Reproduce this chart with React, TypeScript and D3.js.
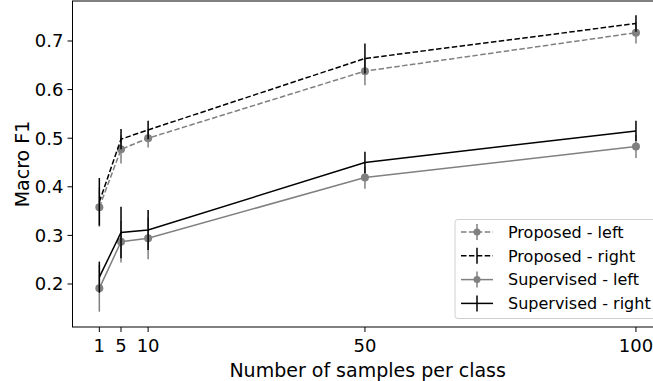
import React from 'react';
import * as d3 from 'd3';

const samples = [1, 5, 10, 50, 100];
const xTicks = [1, 5, 10, 50, 100];
const yTicks = [0.2, 0.3, 0.4, 0.5, 0.6, 0.7];

const proposedLeft = [0.358, 0.477, 0.5, 0.638, 0.717];
const proposedLeftErr = [0.04, 0.029, 0.019, 0.029, 0.022];
const proposedRight = [0.369, 0.498, 0.517, 0.664, 0.736];
const proposedRightErr = [0.049, 0.021, 0.019, 0.031, 0.017];
const supervisedLeft = [0.191, 0.287, 0.294, 0.419, 0.483];
const supervisedLeftErr = [0.048, 0.043, 0.043, 0.023, 0.024];
const supervisedRight = [0.214, 0.306, 0.311, 0.45, 0.515];
const supervisedRightErr = [0.032, 0.053, 0.041, 0.022, 0.021];

const series = [
  { name: 'Proposed - left', values: proposedLeft, err: proposedLeftErr, color: '#808080', dashed: true, marker: true },
  { name: 'Proposed - right', values: proposedRight, err: proposedRightErr, color: '#000000', dashed: true, marker: false },
  { name: 'Supervised - left', values: supervisedLeft, err: supervisedLeftErr, color: '#808080', dashed: false, marker: true },
  { name: 'Supervised - right', values: supervisedRight, err: supervisedRightErr, color: '#000000', dashed: false, marker: false },
];

const W = 653;
const H = 381;
const font = 'DejaVu Sans, sans-serif';

export default function App() {
  const x = d3.scaleLinear().domain([-3.95, 104.95]).range([72.5, 662.8]);
  const y = d3.scaleLinear().domain([0.1115, 0.7823]).range([327, 1]);

  const line = d3
    .line<number>()
    .x((_, i) => x(samples[i]))
    .y((d) => y(d));

  const legendX = 455;
  const legendY = 219.5;
  const rowH = 23.8;

  return (
    <svg
      width={W}
      height={H}
      style={{ position: 'absolute', left: 0, top: 0, background: '#fff' }}
      fontFamily={font}
    >
      {/* series */}
      {series.map((s) => (
        <g key={s.name}>
          {s.values.map((v, i) => (
            <line
              key={i}
              x1={x(samples[i])}
              x2={x(samples[i])}
              y1={y(v - s.err[i])}
              y2={y(v + s.err[i])}
              stroke={s.color}
              strokeWidth={1.5}
            />
          ))}
          <path
            d={line(s.values) || ''}
            fill="none"
            stroke={s.color}
            strokeWidth={1.5}
            strokeDasharray={s.dashed ? '5.5,2.4' : undefined}
          />
          {s.marker &&
            s.values.map((v, i) => (
              <circle key={i} cx={x(samples[i])} cy={y(v)} r={4} fill={s.color} />
            ))}
        </g>
      ))}

      {/* spines */}
      <line x1={72.5} x2={72.5} y1={1} y2={327} stroke="#000" strokeWidth={1} />
      <line x1={72} x2={W} y1={327} y2={327} stroke="#000" strokeWidth={1} />
      <line x1={72} x2={W} y1={1} y2={1} stroke="#000" strokeWidth={1} />

      {/* y axis */}
      {yTicks.map((t) => (
        <g key={t}>
          <line x1={67.5} x2={72.5} y1={y(t)} y2={y(t)} stroke="#000" strokeWidth={1} />
          <text x={63.5} y={y(t)} dy="0.36em" textAnchor="end" fontSize={18} fill="#000">
            {t.toFixed(1)}
          </text>
        </g>
      ))}
      <text
        transform={`translate(22.5,${(1 + 327) / 2}) rotate(-90)`}
        textAnchor="middle"
        dy="0.36em"
        fontSize={19}
        fill="#000"
      >
        Macro F1
      </text>

      {/* x axis */}
      {xTicks.map((t) => (
        <g key={t}>
          <line x1={x(t)} x2={x(t)} y1={327} y2={332} stroke="#000" strokeWidth={1} />
          <text x={x(t)} y={352} textAnchor="middle" fontSize={18} fill="#000">
            {t}
          </text>
        </g>
      ))}
      <text x={(72.5 + 662.8) / 2} y={376.5} textAnchor="middle" fontSize={19} fill="#000">
        Number of samples per class
      </text>

      {/* legend */}
      <rect
        x={legendX}
        y={legendY}
        width={240}
        height={99}
        rx={3}
        fill="#fff"
        fillOpacity={0.8}
        stroke="#d0d0d0"
        strokeWidth={1}
      />
      {series.map((s, i) => {
        const cy = legendY + 12.5 + i * rowH;
        return (
          <g key={s.name}>
            <line
              x1={461}
              x2={493}
              y1={cy}
              y2={cy}
              stroke={s.color}
              strokeWidth={1.5}
              strokeDasharray={s.dashed ? '5.5,2.4' : undefined}
            />
            <line x1={477} x2={477} y1={cy - 8} y2={cy + 8} stroke={s.color} strokeWidth={1.5} />
            {s.marker && <circle cx={477} cy={cy} r={3.5} fill={s.color} />}
            <text x={508} y={cy} dy="0.36em" fontSize={16} fill="#000">
              {s.name}
            </text>
          </g>
        );
      })}
    </svg>
  );
}
